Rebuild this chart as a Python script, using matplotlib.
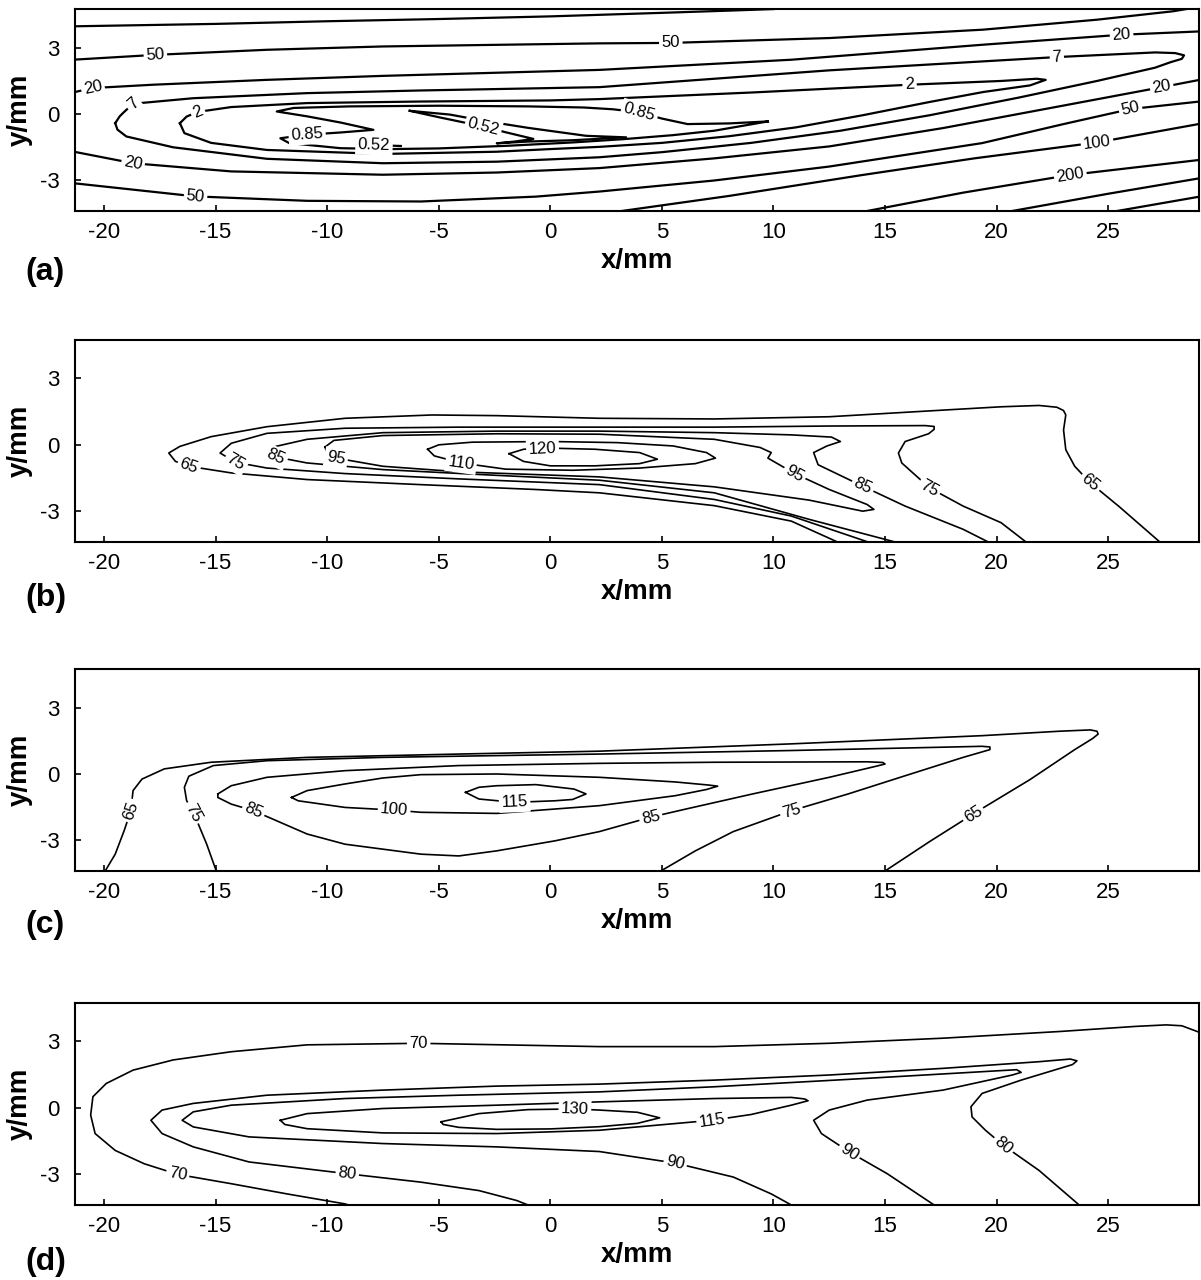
import matplotlib
matplotlib.use('Agg')
import matplotlib.pyplot as plt
import numpy as np

plt.rcParams['font.family'] = 'Liberation Sans'
plt.rcParams['axes.unicode_minus'] = False

XLIM = (-21.32, 29.07)
YLIM = (-4.38, 4.74)
X_TICKS = [-20, -15, -10, -5, 0, 5, 10, 15, 20, 25]
Y_TICKS = [-3, 0, 3]
PANEL_TAGS = ['(a)', '(b)', '(c)', '(d)']

# ---- panel (a): contour lines as (x, y) in mm ----
a_top = [(-21.4, 3.97), (-15, 4.08), (-10, 4.2), (-5, 4.3), (0, 4.42), (5, 4.58), (8, 4.68), (10, 4.75)]
a_50_top = [(-21.4, 2.46), (-17.7, 2.68), (-12.7, 2.91), (-7.5, 3.06), (2.2, 3.2), (5.4, 3.22), (12.5, 3.44),
            (19.4, 3.82), (24.5, 4.27), (27.9, 4.65), (28.5, 4.75)]
a_20_top = [(-21.4, 0.98), (-20.5, 1.18), (-17.8, 1.33), (-12.7, 1.55), (-7.5, 1.73), (2.2, 2.0), (10.8, 2.46),
            (19.4, 3.14), (25.6, 3.59), (29.1, 3.74)]
a_7 = [(-19.5, -0.41), (-19.3, -0.1), (-19.1, 0.1), (-18.7, 0.47), (-16, 0.72), (-10.9, 0.95), (-5.8, 1.07),
       (2.2, 1.22), (12.5, 1.98), (22.7, 2.58), (27.1, 2.79), (28.0, 2.76), (28.4, 2.66), (28.3, 2.5),
       (27.8, 2.35), (27.1, 2.1), (24.5, 1.5), (21, 0.75), (17, -0.05), (13, -0.75), (9, -1.3), (5, -1.72),
       (2.2, -1.95), (-2.4, -2.15), (-7.5, -2.22), (-12.7, -2.02), (-16.9, -1.5), (-19.0, -1.01),
       (-19.4, -0.7), (-19.5, -0.41)]
a_2 = [(-16.6, -0.41), (-16.3, -0.11), (-15.8, 0.1), (-14.3, 0.32), (-10.9, 0.5), (-5.8, 0.57), (0, 0.62),
       (2.2, 0.68), (9.07, 0.98), (16.1, 1.33), (20.2, 1.5), (21.8, 1.6), (22.2, 1.55), (21.5, 1.3), (19.4, 1.0),
       (17, 0.55), (14, -0.05), (11, -0.6), (8, -1.0), (5, -1.3), (2.2, -1.48), (0, -1.58), (-2.4, -1.7),
       (-7.5, -1.8), (-12.7, -1.62), (-15.2, -1.3), (-16.4, -0.86), (-16.6, -0.41)]
a_085 = [(9.75, -0.33), (8, -0.42), (6.15, -0.45), (5.0, -0.2), (4.0, 0.08), (2.8, 0.22), (1.5, 0.3), (-1, 0.35),
         (-5, 0.38), (-9, 0.35), (-11.5, 0.28), (-12.26, 0.12), (-10.9, -0.1), (-9.4, -0.38), (-7.93, -0.71),
         (-9.4, -0.83), (-10.9, -0.93), (-12.1, -1.09), (-11.7, -1.31), (-9.4, -1.54), (-7.2, -1.58),
         (-5, -1.55), (-1.9, -1.43), (1.0, -1.28), (3.3, -1.13), (5.5, -0.95), (7.35, -0.75), (9.75, -0.33)]
a_052 = [(-6.3, 0.15), (-4.5, -0.02), (-3.0, -0.3), (-1.0, -0.62), (1.6, -0.98), (3.4, -1.05), (1.0, -1.18),
         (-1.0, -1.24), (-2.4, -1.32), (-1.6, -1.24), (-0.76, -1.12), (-2.0, -0.82), (-3.0, -0.56),
         (-4.95, -0.15), (-6.3, 0.15)]
a_052_small = [(-8.5, -1.38), (-6.7, -1.44)]
a_20_bot = [(-21.4, -1.69), (-18.7, -2.22), (-14.3, -2.59), (-7.5, -2.74), (-2.4, -2.64), (2.2, -2.44),
            (7.35, -2.0), (12.5, -1.46), (17.6, -0.63), (22.8, 0.35), (27.4, 1.22), (29.1, 1.55)]
a_50_bot = [(-21.4, -3.12), (-15.9, -3.72), (-10.9, -3.92), (-5.8, -3.95), (-0.65, -3.73), (2.2, -3.5),
            (7.35, -3.0), (12.5, -2.37), (19.35, -1.31), (23, -0.45), (26.0, 0.23), (29.1, 0.57)]
a_100 = [(3.2, -4.38), (8, -3.7), (14, -2.75), (19, -2.0), (24.5, -1.28), (29.1, -0.44)]
a_200 = [(14.2, -4.38), (18.5, -3.55), (23.3, -2.75), (29.1, -2.07)]
a_500 = [(20.7, -4.38), (25, -3.6), (29.1, -2.9)]
a_1000 = [(25.4, -4.38), (29.1, -3.73)]

a_lines = [a_top, a_50_top, a_20_top, a_7, a_2, a_085, a_052, a_052_small,
           a_20_bot, a_50_bot, a_100, a_200, a_500, a_1000]
a_labels = [('50', a_50_top, -17.7, 2.68), ('20', a_20_top, -20.5, 1.18), ('7', a_7, -18.7, 0.47),
            ('2', a_2, -15.8, 0.1), ('0.85', a_085, -10.9, -0.93), ('0.52', a_052_small, -7.9, -1.4),
            ('0.52', a_052, -3.0, -0.56), ('0.85', a_085, 4.0, 0.08), ('2', a_2, 16.1, 1.33),
            ('7', a_7, 22.7, 2.58), ('50', a_50_top, 5.4, 3.22), ('20', a_20_top, 25.6, 3.59),
            ('20', a_20_bot, 27.4, 1.22), ('50', a_50_bot, 26.0, 0.23), ('100', a_100, 24.5, -1.28),
            ('200', a_200, 23.3, -2.75), ('20', a_20_bot, -18.7, -2.22), ('50', a_50_bot, -15.9, -3.72)]

# ---- panel (b) ----
b_65 = [(27.3, -4.38), (25.5, -2.8), (24.2, -1.72), (23.5, -0.97), (23.1, -0.22), (23.0, 0.67), (23.1, 1.35),
        (23.0, 1.55), (22.7, 1.7), (21.9, 1.78), (20.2, 1.72), (17.6, 1.57), (12.5, 1.27), (7.35, 1.17),
        (2.2, 1.2), (-2.4, 1.32), (-5.3, 1.35), (-9.2, 1.2), (-12.7, 0.82), (-15.2, 0.37), (-16.6, -0.07),
        (-17.1, -0.37), (-16.8, -0.75), (-16.2, -0.97), (-14.3, -1.27), (-10.9, -1.57), (-5.8, -1.8),
        (-0.65, -2.02), (2.2, -2.17), (7.35, -2.75), (10.8, -3.45), (12.84, -4.38)]
b_75 = [(21.3, -4.38), (20.2, -3.52), (18.5, -2.77), (17.0, -1.95), (15.75, -0.82), (15.6, -0.37), (15.9, 0.15),
        (16.95, 0.5), (17.2, 0.7), (17.2, 0.83), (16.8, 0.87), (12.5, 0.85), (7.35, 0.8), (2.2, 0.8),
        (-4.1, 0.8), (-9.2, 0.75), (-12.7, 0.52), (-14.3, 0.07), (-14.8, -0.37), (-14.1, -0.79),
        (-12.7, -1.05), (-9.2, -1.3), (-4.1, -1.54), (2.2, -1.8), (7.35, -2.47), (10.8, -3.22), (14.2, -4.38)]
b_85 = [(19.6, -4.38), (18.5, -3.82), (15.9, -2.77), (14.0, -1.87), (12.0, -0.9), (11.8, -0.35), (12.4, -0.05),
        (13.0, 0.15), (12.6, 0.35), (10.8, 0.45), (7.35, 0.55), (2.2, 0.62), (-2.4, 0.62), (-7.5, 0.55),
        (-10.9, 0.25), (-12.3, -0.07), (-12.7, -0.37), (-12.3, -0.55), (-10.9, -0.82), (-7.5, -1.12),
        (-2.4, -1.38), (2.2, -1.6), (7.35, -2.17), (11.6, -3.37), (15.4, -4.38)]
b_95 = [(-10.1, -0.1), (-9.7, 0.2), (-7.5, 0.42), (-2.4, 0.5), (2.2, 0.48), (7.35, 0.25), (9.4, -0.12),
        (9.9, -0.35), (9.75, -0.6), (10.95, -1.3), (12.5, -2.02), (14.2, -2.7), (14.5, -2.92), (14.0, -3.0),
        (11.6, -2.5), (7.35, -1.9), (2.2, -1.45), (-4.1, -1.22), (-7.5, -0.97), (-9.6, -0.6), (-10.0, -0.37),
        (-10.1, -0.1)]
b_110 = [(-5.5, -0.2), (-5.0, 0.0), (-3.5, 0.12), (0, 0.15), (3, 0.1), (5.5, -0.05), (7.0, -0.35), (7.4, -0.6),
         (6.5, -0.85), (4, -1.05), (1, -1.15), (-2, -1.1), (-4.0, -0.82), (-5.2, -0.5), (-5.5, -0.2)]
b_120 = [(-1.85, -0.4), (-1.2, -0.2), (0, -0.15), (2, -0.2), (4, -0.35), (4.8, -0.65), (4, -0.85), (2, -0.95),
         (0, -0.95), (-1.2, -0.75), (-1.85, -0.4)]

b_lines = [b_65, b_75, b_85, b_95, b_110, b_120]
b_labels = [('65', b_65, -16.2, -0.97), ('75', b_75, -14.1, -0.79), ('85', b_85, -12.3, -0.55),
            ('95', b_95, -9.6, -0.6), ('110', b_110, -4.0, -0.82), ('120', b_120, -0.35, -0.17),
            ('95', b_95, 10.95, -1.3), ('85', b_85, 14.0, -1.87), ('75', b_75, 17.0, -1.95),
            ('65', b_65, 24.2, -1.72)]

# ---- panel (c) ----
c_65 = [(-19.95, -4.38), (-19.5, -3.62), (-19.1, -2.56), (-18.8, -1.66), (-18.7, -0.75), (-18.3, -0.23),
        (-17.3, 0.23), (-15.2, 0.53), (-10.9, 0.75), (-4.1, 0.9), (2.2, 1.03), (10.8, 1.36), (19.35, 1.73),
        (22.8, 1.93), (24.2, 1.99), (24.5, 1.93), (24.55, 1.8), (24.3, 1.6), (23.5, 1.1), (21.5, -0.25),
        (19.2, -1.65), (17.0, -3.05), (15.0, -4.38)]
c_75 = [(-14.97, -4.38), (-15.4, -3.17), (-15.9, -1.96), (-16.3, -1.2), (-16.4, -0.6), (-16.2, -0.1),
        (-15.1, 0.38), (-12.7, 0.6), (-7.5, 0.75), (-2.4, 0.83), (2.2, 0.9), (10.8, 1.06), (17.6, 1.21),
        (19.35, 1.25), (19.7, 1.22), (19.7, 1.1), (18.5, 0.75), (15.9, -0.08), (13.35, -0.9), (10.8, -1.66),
        (8.2, -2.6), (6.5, -3.47), (4.95, -4.38)]
c_85 = [(-14.9, -0.9), (-14.3, -0.53), (-12.7, -0.15), (-9.2, 0.15), (-4.1, 0.38), (2.2, 0.48), (7.35, 0.53),
        (14.2, 0.55), (14.9, 0.52), (15.0, 0.45), (14.6, 0.35), (12.5, -0.15), (9.07, -0.9), (6.0, -1.6),
        (4.5, -1.95), (2.2, -2.6), (0.2, -3.02), (-2.4, -3.47), (-4.1, -3.7), (-5.8, -3.62), (-9.2, -3.17),
        (-10.9, -2.71), (-13.3, -1.66), (-14.3, -1.36), (-14.9, -1.06), (-14.9, -0.9)]
c_100 = [(-11.6, -1.06), (-10.9, -0.75), (-9.2, -0.45), (-7.5, -0.18), (-5.8, -0.03), (-2.4, 0.0),
         (2.2, -0.15), (5.6, -0.36), (7.1, -0.5), (7.5, -0.55), (7.0, -0.7), (5.6, -0.98), (2.2, -1.43),
         (-2.4, -1.78), (-5.8, -1.73), (-7.0, -1.63), (-9.2, -1.51), (-11.3, -1.21), (-11.6, -1.06)]
c_115 = [(-3.8, -0.83), (-3.2, -0.6), (-2.4, -0.53), (-0.65, -0.48), (1.06, -0.68), (1.6, -0.9), (1.0, -1.15),
         (0.2, -1.21), (-1.6, -1.28), (-3.2, -1.13), (-3.8, -0.83)]

c_lines = [c_65, c_75, c_85, c_100, c_115]
c_labels = [('65', c_65, -18.8, -1.66), ('75', c_75, -16.0, -1.75), ('85', c_85, -13.3, -1.66),
            ('100', c_100, -7.0, -1.63), ('115', c_115, -1.6, -1.28), ('85', c_85, 4.5, -1.95),
            ('75', c_75, 10.8, -1.66), ('65', c_65, 18.75, -1.5)]

# ---- panel (d) ----
d_70 = [(-9.05, -4.38), (-9.2, -4.33), (-11.8, -3.88), (-14.3, -3.42), (-16.7, -3.0), (-18.2, -2.52),
        (-19.5, -1.92), (-20.4, -1.16), (-20.6, -0.33), (-20.5, 0.5), (-19.9, 1.1), (-18.7, 1.7),
        (-16.9, 2.16), (-14.3, 2.53), (-10.9, 2.84), (-5.9, 2.91), (2.2, 2.76), (7.35, 2.76), (12.5, 2.91),
        (17.6, 3.14), (22.8, 3.44), (26.2, 3.67), (27.6, 3.74), (28.3, 3.7), (28.7, 3.55), (29.1, 3.4)]
d_80 = [(-1.0, -4.38), (-1.5, -4.18), (-3.2, -3.73), (-5.8, -3.35), (-9.1, -2.97), (-13.5, -2.44),
        (-16.0, -1.76), (-17.4, -1.16), (-17.9, -0.56), (-17.4, -0.1), (-16.0, 0.2), (-12.7, 0.57),
        (-7.5, 0.8), (-2.4, 0.98), (2.2, 1.07), (7.35, 1.25), (12.5, 1.48), (17.6, 1.78), (21.9, 2.08),
        (23.3, 2.2), (23.6, 2.12), (23.4, 1.95), (21.1, 1.25), (19.35, 0.65), (18.85, 0.05), (18.9, -0.41),
        (19.5, -1.01), (20.3, -1.69), (21.9, -2.82), (23.7, -4.38)]
d_90 = [(10.8, -4.38), (9.9, -3.88), (8.2, -3.12), (5.6, -2.49), (2.2, -1.97), (-2.4, -1.76), (-7.5, -1.61),
        (-13.5, -1.31), (-16.0, -0.86), (-16.5, -0.56), (-16.0, -0.18), (-14.3, 0.12), (-9.2, 0.42),
        (-4.1, 0.57), (2.2, 0.72), (7.35, 0.95), (14.2, 1.33), (19.35, 1.63), (20.9, 1.72), (21.1, 1.6),
        (20.7, 1.48), (17.6, 0.8), (14.2, 0.35), (12.5, -0.1), (11.8, -0.56), (12.15, -1.16), (13.4, -1.99),
        (15.1, -2.97), (17.2, -4.38)]
d_115 = [(-12.1, -0.56), (-10.9, -0.26), (-7.5, -0.03), (-2.4, 0.12), (2.2, 0.27), (7.35, 0.42), (10.8, 0.47),
         (11.4, 0.4), (11.55, 0.32), (10.8, 0.12), (9, -0.3), (7.25, -0.56), (3.9, -0.86), (2.2, -1.01),
         (-2.4, -1.16), (-7.5, -1.13), (-10.9, -0.94), (-11.9, -0.75), (-12.1, -0.56)]
d_130 = [(-4.9, -0.63), (-3.2, -0.26), (-1, -0.08), (1.06, -0.05), (2.2, -0.1), (3.9, -0.2), (4.9, -0.45),
         (3.9, -0.7), (2.2, -0.85), (0, -0.95), (-2.4, -0.97), (-4.1, -0.88), (-4.8, -0.75), (-4.9, -0.63)]

d_lines = [d_70, d_80, d_90, d_115, d_130]
d_labels = [('70', d_70, -5.9, 2.91), ('70', d_70, -16.7, -3.0), ('80', d_80, -9.1, -2.97),
            ('130', d_130, 1.1, -0.05), ('115', d_115, 7.25, -0.56), ('90', d_90, 5.6, -2.49),
            ('90', d_90, 13.4, -1.99), ('80', d_80, 20.3, -1.69)]

PANELS = [(a_lines, a_labels), (b_lines, b_labels), (c_lines, c_labels), (d_lines, d_labels)]

# pixel layout of the four axes (top, bottom) in a 1201x1280 canvas
W, H = 1201, 1280
AX_LEFT, AX_RIGHT = 74.6, 1199
AX_TB = [(9.3, 211), (340, 541.7), (669, 871), (1002.7, 1205)]
TAG_BASE = [280, 606, 933, 1270]
LINE_W = [1.6, 1.2, 1.2, 1.2]


def put_label(ax, path, text, px, py):
    # snap the label onto the nearest segment of its line and follow its slope
    pts = ax.transData.transform(np.array(path))
    target = ax.transData.transform((px, py))
    best = None
    for i in range(len(pts) - 1):
        p0, p1 = pts[i], pts[i + 1]
        seg = p1 - p0
        t = np.clip(np.dot(target - p0, seg) / max(np.dot(seg, seg), 1e-9), 0, 1)
        q = p0 + t * seg
        d = np.hypot(*(target - q))
        if best is None or d < best[0]:
            best = (d, q, seg)
    _, q, seg = best
    ang = np.degrees(np.arctan2(seg[1], seg[0]))
    if ang > 90:
        ang -= 180
    if ang < -90:
        ang += 180
    x, y = ax.transData.inverted().transform(q)
    ax.text(x, y, text, fontsize=12, rotation=ang, rotation_mode='anchor',
            ha='center', va='center', zorder=4,
            bbox=dict(boxstyle='square,pad=0.15', fc='white', ec='none'))


fig = plt.figure(figsize=(W / 100, H / 100), dpi=100)

for k, (lines, labels) in enumerate(PANELS):
    top, bot = AX_TB[k]
    ax = fig.add_axes([AX_LEFT / W, 1 - bot / H, (AX_RIGHT - AX_LEFT) / W, (bot - top) / H])
    ax.set_xlim(*XLIM)
    ax.set_ylim(*YLIM)
    for path in lines:
        xs, ys = zip(*path)
        ax.plot(xs, ys, color='black', lw=LINE_W[k], solid_joinstyle='round', zorder=2)
    for text, path, px, py in labels:
        put_label(ax, path, text, px, py)

    ax.set_xticks(X_TICKS)
    ax.set_yticks(Y_TICKS)
    ax.tick_params(axis='both', direction='in', length=4.5, width=1.2, labelsize=16)
    ax.tick_params(axis='x', pad=8)
    ax.tick_params(axis='y', pad=11)
    for s in ax.spines.values():
        s.set_linewidth(1.5)

    fig.text(20 / W, 1 - (top + bot) / 2 / H, 'y/mm', rotation=90, fontsize=20,
             fontweight='bold', ha='center', va='center')
    fig.text((AX_LEFT + AX_RIGHT) / 2 / W, 1 - (bot + 57) / H, 'x/mm', fontsize=20,
             fontweight='bold', ha='center', va='baseline')
    fig.text(25 / W, 1 - TAG_BASE[k] / H, PANEL_TAGS[k], fontsize=23,
             fontweight='bold', ha='left', va='baseline')

fig.savefig('out.png', dpi=100)
